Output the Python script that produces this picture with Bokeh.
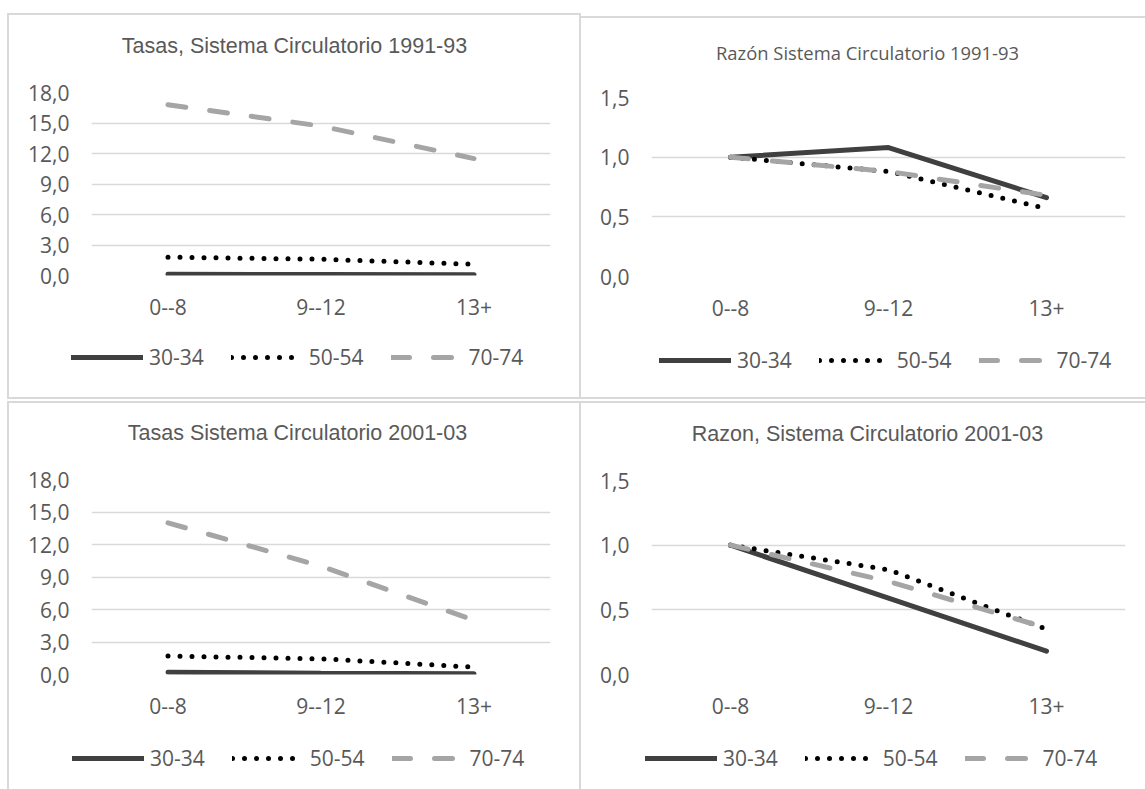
from bokeh.plotting import figure
from bokeh.models import FactorRange, Range1d, FixedTicker, Legend, LegendItem, Label, Spacer
from bokeh.layouts import row, column
from bokeh.embed import file_html
from bokeh.resources import INLINE

# ---------------- data ----------------
categories = ["0--8", "9--12", "13+"]
series_names = ["30-34", "50-54", "70-74"]

tasas_9193_3034 = [0.12, 0.10, 0.08]
tasas_9193_5054 = [1.80, 1.60, 1.10]
tasas_9193_7074 = [16.8, 14.7, 11.5]

razon_9193_3034 = [1.00, 1.08, 0.66]
razon_9193_5054 = [1.00, 0.88, 0.57]
razon_9193_7074 = [1.00, 0.88, 0.68]

tasas_0103_3034 = [0.20, 0.12, 0.06]
tasas_0103_5054 = [1.70, 1.45, 0.68]
tasas_0103_7074 = [14.0, 10.0, 5.0]

razon_0103_3034 = [1.00, 0.59, 0.18]
razon_0103_5054 = [1.00, 0.81, 0.35]
razon_0103_7074 = [1.00, 0.72, 0.36]

tasas_ticks = [0, 3, 6, 9, 12, 15, 18]
tasas_tick_labels = ["0,0", "3,0", "6,0", "9,0", "12,0", "15,0", "18,0"]
razon_ticks = [0, 0.5, 1.0, 1.5]
razon_tick_labels = ["0,0", "0,5", "1,0", "1,5"]

titles = ["Tasas, Sistema Circulatorio 1991-93",
          "Razón Sistema Circulatorio 1991-93",
          "Tasas Sistema Circulatorio 2001-03",
          "Razon, Sistema Circulatorio 2001-03"]

# ---------------- styles ----------------
TXT = "#595959"
GRID = "#d9d9d9"
FONT = "Open Sans"
ARIAL = "Liberation Sans"
LBL = "21px"
series_styles = [
    dict(line_color="#404040", line_width=5, line_cap="round"),
    dict(line_color="#000000", line_width=5, line_cap="round", line_dash="0 12"),
    dict(line_color="#a5a5a5", line_width=5, line_cap="round", line_dash="18 24"),
]
NAN = float("nan")


def blank_fig(w, h):
    f = figure(width=w, height=h, title=None, x_range=Range1d(0, w), y_range=Range1d(0, h),
               x_axis_location=None, y_axis_location=None,
               output_backend="svg", toolbar_location=None, min_border=0)
    f.frame_align = False
    f.grid.visible = False
    f.outline_line_color = None
    f.background_fill_color = "white"
    f.border_fill_color = "white"
    return f


def make_panel(title, tfont, tsize, width, head_h, title_xy,
               values, ymax, ticks, tick_labels, main_h, mb_left, mb_right,
               leg_h, legend_xy):
    # title strip
    head = blank_fig(width, head_h)
    head.add_layout(Label(x=title_xy[0], y=title_xy[1], x_units="screen", y_units="screen",
                          text=title, text_align="center", text_baseline="middle",
                          text_font=tfont, text_font_size=tsize, text_color=TXT))

    # chart
    p = figure(width=width, height=main_h, title=None,
               x_range=FactorRange(*categories), y_range=Range1d(0, ymax),
               output_backend="svg", toolbar_location=None,
               min_border_left=mb_left, min_border_right=mb_right,
               min_border_top=15, min_border_bottom=55)
    p.frame_align = False
    p.x_range.range_padding = 0
    p.outline_line_color = None
    p.background_fill_color = "white"
    p.border_fill_color = "white"
    p.xgrid.visible = False
    p.ygrid.grid_line_color = GRID
    p.ygrid.grid_line_width = 1.5
    p.yaxis.ticker = FixedTicker(ticks=ticks)
    p.yaxis.major_label_overrides = {t: l for t, l in zip(ticks, tick_labels)}
    for ax in (p.xaxis, p.yaxis):
        ax.axis_line_color = None
        ax.major_tick_line_color = None
        ax.minor_tick_line_color = None
        ax.major_tick_out = 0
        ax.major_tick_in = 0
        ax.major_label_text_font = FONT
        ax.major_label_text_font_size = LBL
        ax.major_label_text_color = TXT
    p.yaxis.major_label_standoff = 22
    p.xaxis.major_label_standoff = 23
    for vals, st in zip(values, series_styles):
        p.line(x=categories, y=vals, **st)

    # legend strip: proxy renderers (no visible data) carry the same line styles
    leg = blank_fig(width, leg_h)
    samples = [leg.line(x=[NAN], y=[NAN], **st) for st in series_styles]
    legend = Legend(items=[LegendItem(label=n, renderers=[r]) for n, r in zip(series_names, samples)],
                    orientation="horizontal", location=legend_xy,
                    glyph_width=72, glyph_height=28, label_height=28,
                    label_standoff=6, spacing=27, padding=0, margin=0,
                    border_line_color=None, background_fill_alpha=0,
                    label_text_font=FONT, label_text_font_size=LBL,
                    label_text_color=TXT)
    leg.add_layout(legend)
    return column(head, p, leg)


def hline(w):
    return Spacer(width=w, height=2, styles={"background-color": GRID})


def vline(h):
    return Spacer(width=2, height=h, styles={"background-color": GRID})


tl = make_panel(titles[0], ARIAL, "21.5px", 570, 62, (285, 32),
                [tasas_9193_3034, tasas_9193_5054, tasas_9193_7074], 18, tasas_ticks, tasas_tick_labels,
                253, 82, 29, 67, (62, 26))
tr = make_panel(titles[1], FONT, "18.4px", 564, 64, (286, 30),
                [razon_9193_3034, razon_9193_5054, razon_9193_7074], 1.5, razon_ticks, razon_tick_labels,
                249, 70, 20, 66, (78, 23))
bl = make_panel(titles[2], ARIAL, "21.5px", 570, 61, (288, 32),
                [tasas_0103_3034, tasas_0103_5054, tasas_0103_7074], 18, tasas_ticks, tasas_tick_labels,
                265, 82, 29, 60, (63, 17))
br = make_panel(titles[3], ARIAL, "21.5px", 564, 62, (286, 32),
                [razon_0103_3034, razon_0103_5054, razon_0103_7074], 1.5, razon_ticks, razon_tick_labels,
                264, 70, 20, 60, (64, 17))

left_col = column(Spacer(height=13), hline(574), row(vline(382), tl, vline(382)), hline(574),
                  Spacer(height=2), hline(574), row(vline(386), bl, vline(386)))
right_col = column(Spacer(height=16), hline(564), tr, hline(564),
                   Spacer(height=2), hline(564), br)
layout = row(Spacer(width=7), left_col, right_col)

open("out.html", "w").write(file_html(layout, INLINE))
